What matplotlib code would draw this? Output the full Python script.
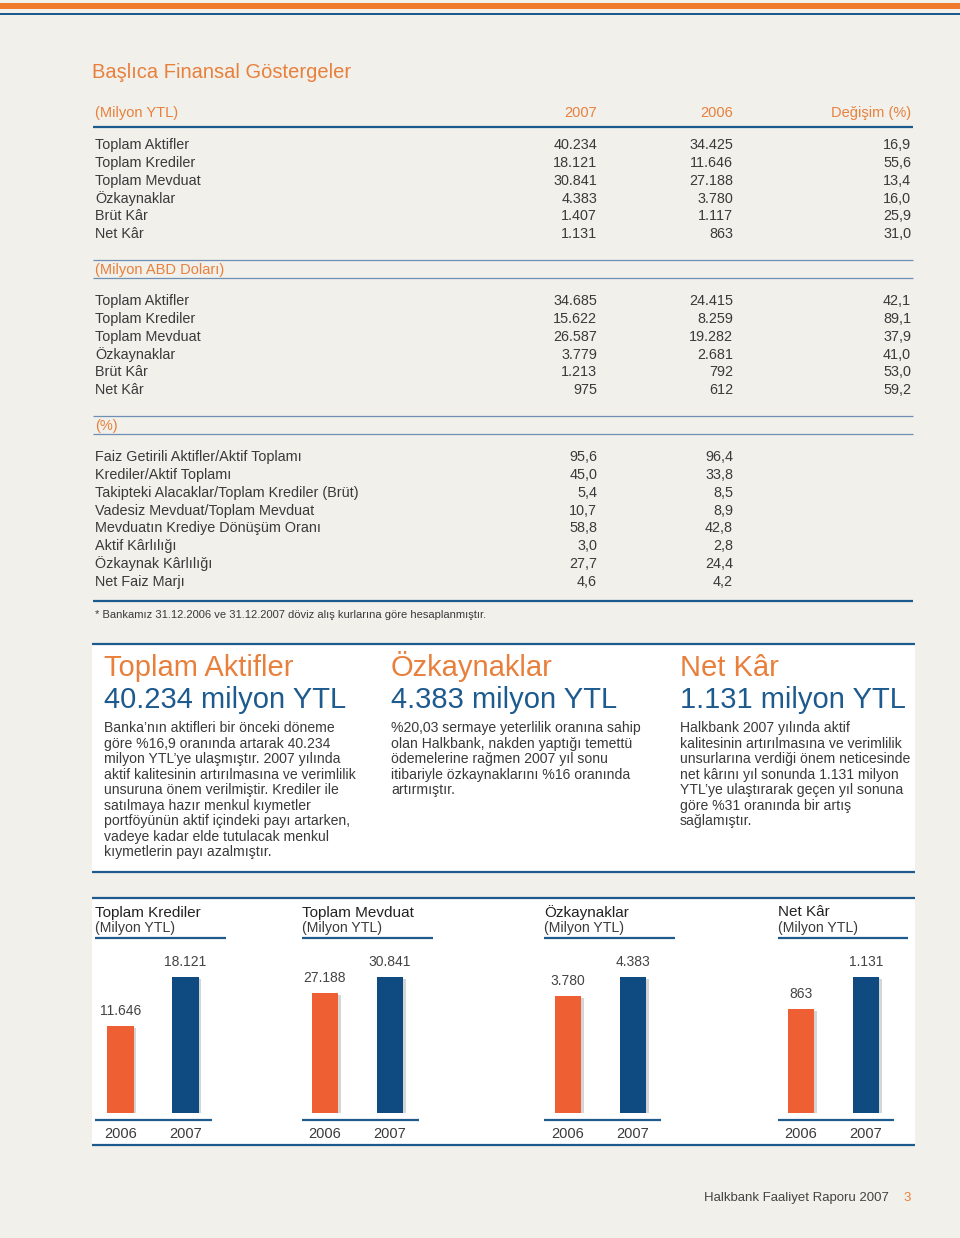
import matplotlib
matplotlib.use("Agg")
import matplotlib.pyplot as plt
from matplotlib.patches import Rectangle
import matplotlib.patheffects as pe

plt.rcParams['font.family'] = ['Liberation Sans', 'DejaVu Sans']

# ---------------- DATA ----------------
title = "Başlıca Finansal Göstergeler"
col_headers = ["2007", "2006", "Değişim (%)"]

sec1_title = "(Milyon YTL)"
sec1_labels = ["Toplam Aktifler", "Toplam Krediler", "Toplam Mevduat",
               "Özkaynaklar", "Brüt Kâr", "Net Kâr"]
sec1_2007 = [40234, 18121, 30841, 4383, 1407, 1131]
sec1_2006 = [34425, 11646, 27188, 3780, 1117, 863]
sec1_chg = [16.9, 55.6, 13.4, 16.0, 25.9, 31.0]

sec2_title = "(Milyon ABD Doları)"
sec2_labels = ["Toplam Aktifler", "Toplam Krediler", "Toplam Mevduat",
               "Özkaynaklar", "Brüt Kâr", "Net Kâr"]
sec2_2007 = [34685, 15622, 26587, 3779, 1213, 975]
sec2_2006 = [24415, 8259, 19282, 2681, 792, 612]
sec2_chg = [42.1, 89.1, 37.9, 41.0, 53.0, 59.2]

sec3_title = "(%)"
sec3_labels = ["Faiz Getirili Aktifler/Aktif Toplamı", "Krediler/Aktif Toplamı",
               "Takipteki Alacaklar/Toplam Krediler (Brüt)",
               "Vadesiz Mevduat/Toplam Mevduat", "Mevduatın Krediye Dönüşüm Oranı",
               "Aktif Kârlılığı", "Özkaynak Kârlılığı", "Net Faiz Marjı"]
sec3_2007 = [95.6, 45.0, 5.4, 10.7, 58.8, 3.0, 27.7, 4.6]
sec3_2006 = [96.4, 33.8, 8.5, 8.9, 42.8, 2.8, 24.4, 4.2]

footnote = "* Bankamız 31.12.2006 ve 31.12.2007 döviz alış kurlarına göre hesaplanmıştır."

box_heads = ["Toplam Aktifler", "Özkaynaklar", "Net Kâr"]
box_values = ["40.234 milyon YTL", "4.383 milyon YTL", "1.131 milyon YTL"]
box_texts = [
    ["Banka’nın aktifleri bir önceki döneme",
     "göre %16,9 oranında artarak 40.234",
     "milyon YTL’ye ulaşmıştır. 2007 yılında",
     "aktif kalitesinin artırılmasına ve verimlilik",
     "unsuruna önem verilmiştir. Krediler ile",
     "satılmaya hazır menkul kıymetler",
     "portföyünün aktif içindeki payı artarken,",
     "vadeye kadar elde tutulacak menkul",
     "kıymetlerin payı azalmıştır."],
    ["%20,03 sermaye yeterlilik oranına sahip",
     "olan Halkbank, nakden yaptığı temettü",
     "ödemelerine rağmen 2007 yıl sonu",
     "itibariyle özkaynaklarını %16 oranında",
     "artırmıştır."],
    ["Halkbank 2007 yılında aktif",
     "kalitesinin artırılmasına ve verimlilik",
     "unsurlarına verdiği önem neticesinde",
     "net kârını yıl sonunda 1.131 milyon",
     "YTL’ye ulaştırarak geçen yıl sonuna",
     "göre %31 oranında bir artış",
     "sağlamıştır."],
]

chart_titles = ["Toplam Krediler", "Toplam Mevduat", "Özkaynaklar", "Net Kâr"]
chart_unit = "(Milyon YTL)"
chart_years = ["2006", "2007"]
chart_2006 = [11646, 27188, 3780, 863]
chart_2007 = [18121, 30841, 4383, 1131]

footer_text = "Halkbank Faaliyet Raporu 2007"
page_no = "3"

# ---------------- STYLE ----------------
W, H = 960, 1238
BG = "#f1f0eb"
ORANGE = "#e8803c"
ORANGE_BAR = "#ee5f33"
BLUE = "#1d5a8e"
BLUE_BAR = "#0f4b80"
THIN = "#6f8fb3"
TXT = "#3a3a3a"


def fmt_int(v):
    return f"{v:,}".replace(",", ".")


def fmt_pct(v):
    return f"{v:.1f}".replace(".", ",")


fig = plt.figure(figsize=(W / 100, H / 100), dpi=100, facecolor=BG)
page = fig.add_axes([0, 0, 1, 1])
page.set_xlim(0, W)
page.set_ylim(H, 0)
page.axis("off")
page.set_zorder(0)


def T(x, yc, s, size, color=TXT, ha="left", **kw):
    # yc is the visual centre of the capitals; place on baseline
    px = size * 100 / 72
    page.text(x, yc + 0.36 * px, s, fontsize=size, color=color, ha=ha,
              va="baseline", **kw)


def hline(y, x0, x1, lw=1.6, color=BLUE):
    page.plot([x0, x1], [y, y], color=color, lw=lw, solid_capstyle="butt")


# top stripes
page.add_patch(Rectangle((0, 2.5), W, 6.5, color="#f07a2c", lw=0))
page.add_patch(Rectangle((0, 12.5), W, 2.5, color=BLUE, lw=0))

T(92, 71, title, 14.5, color=ORANGE)

# table
XL, X07, X06, XCH = 95, 597, 733, 911
LX0, LX1 = 93, 913
T(XL, 112, sec1_title, 10.5, color=ORANGE)
T(X07, 112, col_headers[0], 10.5, color=ORANGE, ha="right")
T(X06, 112, col_headers[1], 10.5, color=ORANGE, ha="right")
T(XCH, 112, col_headers[2], 10.5, color=ORANGE, ha="right")
hline(126.5, LX0, LX1, lw=1.6)

ROW = 17.8
FS = 10.4
for i, lab in enumerate(sec1_labels):
    y = 144 + i * ROW
    T(XL, y, lab, FS)
    T(X07, y, fmt_int(sec1_2007[i]), FS, ha="right")
    T(X06, y, fmt_int(sec1_2006[i]), FS, ha="right")
    T(XCH, y, fmt_pct(sec1_chg[i]), FS, ha="right")

hline(260, LX0, LX1, lw=0.9, color=THIN)
T(XL, 268.5, sec2_title, 10.5, color=ORANGE)
hline(278, LX0, LX1, lw=0.9, color=THIN)
for i, lab in enumerate(sec2_labels):
    y = 300 + i * ROW
    T(XL, y, lab, FS)
    T(X07, y, fmt_int(sec2_2007[i]), FS, ha="right")
    T(X06, y, fmt_int(sec2_2006[i]), FS, ha="right")
    T(XCH, y, fmt_pct(sec2_chg[i]), FS, ha="right")

hline(416, LX0, LX1, lw=0.9, color=THIN)
T(XL, 425, sec3_title, 10.5, color=ORANGE)
hline(434, LX0, LX1, lw=0.9, color=THIN)
for i, lab in enumerate(sec3_labels):
    y = 456 + i * ROW
    T(XL, y, lab, FS)
    T(X07, y, fmt_pct(sec3_2007[i]), FS, ha="right")
    T(X06, y, fmt_pct(sec3_2006[i]), FS, ha="right")

hline(601, LX0, LX1, lw=1.6)
T(95, 614, footnote, 8.0)

# white text box
page.add_patch(Rectangle((92, 643), 823, 229, color="white", lw=0))
hline(643.5, 92, 915, lw=1.6)
hline(871.5, 92, 915, lw=1.6)
box_x = [104, 391, 680]
for k in range(3):
    T(box_x[k], 666, box_heads[k], 21, color=ORANGE)
    T(box_x[k], 698, box_values[k], 21, color=BLUE)
    for j, line in enumerate(box_texts[k]):
        T(box_x[k], 727 + j * 15.5, line, 10.1)

# chart section
page.add_patch(Rectangle((92, 897), 823, 248, color="white", lw=0))
hline(897.5, 92, 915, lw=1.6)
hline(1145, 92, 915, lw=1.6)

chart_left = [95, 302, 544, 778]
chart_c0 = [120.5, 325, 568, 801]
head_line_end = [226, 433, 675, 908]
base_line_end = [212, 419, 661, 894]
BAR_BOTTOM = 1113
FULL = 136  # pixel height of 2007 bar
AX_H = 163
for k in range(4):
    x0 = chart_left[k]
    T(x0, 911, chart_titles[k], 11.0, color="#222222")
    T(x0, 927, chart_unit, 10.2)
    hline(938, x0, head_line_end[k], lw=1.6)
    hline(1120, x0, base_line_end[k], lw=1.6)

    left = chart_c0[k] - 32.5
    ax = fig.add_axes([left / W, (H - BAR_BOTTOM) / H, 130 / W, AX_H / H])
    ax.set_zorder(2)
    ax.patch.set_alpha(0)
    vals = [chart_2006[k], chart_2007[k]]
    bars = ax.bar([0, 1], vals, width=0.415, color=[ORANGE_BAR, BLUE_BAR],
                  linewidth=0)
    for b in bars:
        b.set_path_effects([pe.SimplePatchShadow(offset=(1.5, -1.5),
                                                 shadow_rgbFace="#888888",
                                                 alpha=0.35),
                            pe.Normal()])
    ax.set_xlim(-0.5, 1.5)
    ax.set_ylim(0, chart_2007[k] * AX_H / FULL)
    for i, v in enumerate(vals):
        ax.annotate(fmt_int(v), (i, v), xytext=(0, 15),
                    textcoords="offset pixels", ha="center", va="center",
                    fontsize=10, color="#444444")
    ax.set_xticks([0, 1], chart_years)
    ax.tick_params(axis="x", length=0, pad=10, labelsize=10.5,
                   labelcolor=TXT)
    ax.set_yticks([])
    for s in ax.spines.values():
        s.set_visible(False)

# footer
T(889, 1196, footer_text, 9.5, color="#444444", ha="right")
T(911, 1196, page_no, 9.5, color=ORANGE, ha="right")

fig.savefig("out.png", dpi=100, facecolor=BG)
